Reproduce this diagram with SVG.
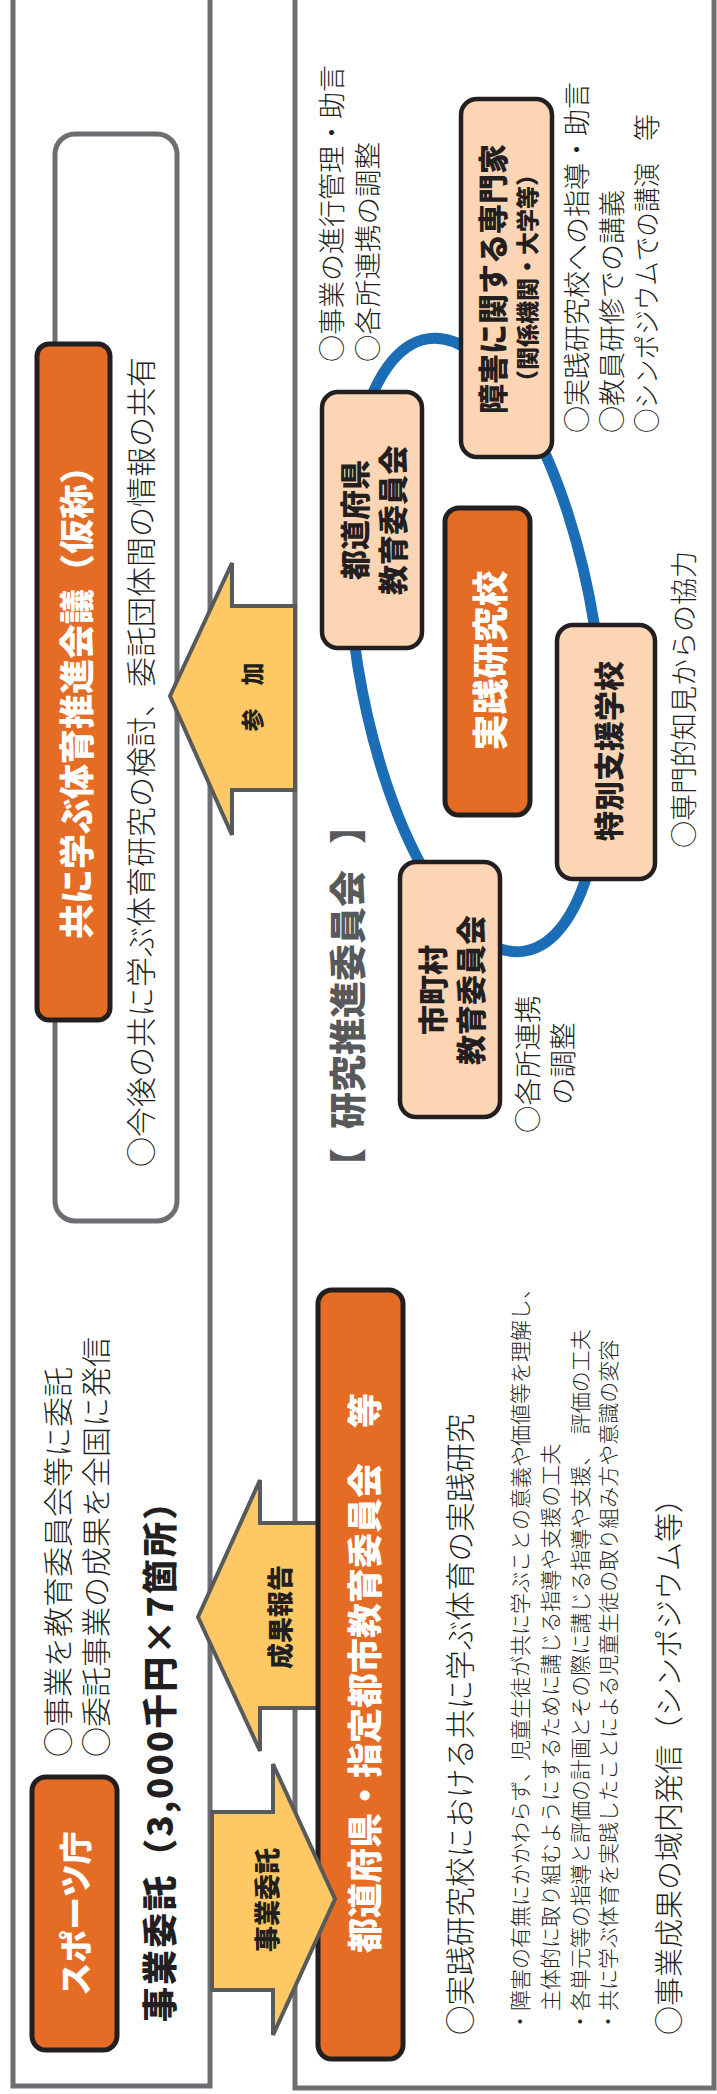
<svg xmlns="http://www.w3.org/2000/svg" width="717" height="2094" viewBox="0 0 717 2094">
<style>
.frame{fill:none;stroke:#6d6e71;stroke-width:5}
.round{fill:#fff;stroke:#6d6e71;stroke-width:5}
.org{fill:#e46c25;stroke:#231f20;stroke-width:5}
.peach{fill:#fcd5b5;stroke:#231f20;stroke-width:4.5}
.arrow{fill:#fec965;stroke:#58595b;stroke-width:4;stroke-linejoin:miter}
.ring{fill:none;stroke:#1b6db5;stroke-width:11}
text{font-family:"Noto Sans CJK JP","Noto Sans CJK SC",sans-serif;fill:#231f20;dominant-baseline:central;font-weight:300}
.b{font-weight:900}
.w{fill:#fff}
.m{text-anchor:middle}
.g{fill:#58595b}
</style>
<rect width="717" height="2094" fill="#fff"/>
<g transform="translate(0,2094) rotate(-90)">
  <g id="frames">
    <rect class="frame" x="8" y="13" width="2100" height="197"/>
    <rect class="frame" x="6" y="295" width="2100" height="419"/>
  </g>
  <g id="council">
    <rect class="round" x="873" y="55" width="1087" height="122" rx="20"/>
    <rect class="org" x="1074" y="37" width="676" height="73" rx="12"/>
    <text class="b w m" x="1400" y="74" font-size="35">共に学ぶ体育推進会議（仮称）</text>
    <text x="927" y="138.5" font-size="30">○今後の共に学ぶ体育研究の検討、委託団体間の情報の共有</text>
  </g>
  <g id="sports-agency">
    <rect class="org" x="44" y="32" width="273" height="85" rx="14"/>
    <text class="b w m" x="180.5" y="74" font-size="33">スポーツ庁</text>
    <text x="337" y="56" font-size="30">○事業を教育委員会等に委託</text>
    <text x="337" y="93.5" font-size="30">○委託事業の成果を全国に発信</text>
    <text class="b" x="72" y="157.5" font-size="35" textLength="537" lengthAdjust="spacing">事業委託（3,000千円×7箇所）</text>
  </g>
  <g id="connectors">
    <polygon id="arrow-report" class="arrow" points="477,198 614,260 571,260 571,322 386,322 386,260 343,260"/>
    <text class="b m" x="477" y="278" font-size="26">成果報告</text>
  </g>
  <g id="prefecture-board">
    <rect class="org" x="35" y="318" width="769" height="85" rx="14"/>
    <text class="b w m" x="421" y="362" font-size="35">都道府県・指定都市教育委員会　等</text>
    <text x="59" y="458.5" font-size="29.6">○実践研究校における共に学ぶ体育の実践研究</text>
    <text x="62" y="518.5" font-size="21">・障害の有無にかかわらず、児童生徒が共に学ぶことの意義や価値等を理解し、</text>
    <text x="83" y="548.5" font-size="21">主体的に取り組むようにするために講じる指導や支援の工夫</text>
    <text x="62" y="578.5" font-size="21">・各単元等の指導と評価の計画とその際に講じる指導や支援、　評価の工夫</text>
    <text x="62" y="606.5" font-size="21">・共に学ぶ体育を実践したことによる児童生徒の取り組み方や意識の変容</text>
    <text x="59" y="666.5" font-size="29">○事業成果の域内発信（シンポジウム等）</text>
  </g>
  <g id="committee">
    <text class="b g" y="346" font-size="37"><tspan x="909">【</tspan><tspan x="965">研究推進委員会</tspan><tspan x="1250">】</tspan></text>
    <ellipse class="ring" cx="1449" cy="476" rx="310" ry="120" transform="rotate(-9 1449 476)"/>
  </g>
  <g id="expert">
    <rect class="peach" x="1637" y="461" width="358" height="91" rx="16"/>
    <text class="b m" x="1815" y="491" font-size="30">障害に関する専門家</text>
    <text class="b m" x="1816" y="525.5" font-size="23">（関係機関・大学等）</text>
    <text x="1661" y="575.5" font-size="27">○実践研究校への指導・助言</text>
    <text x="1661" y="610.5" font-size="27">○教員研修での講義</text>
    <text x="1661" y="645.5" font-size="27" textLength="270" lengthAdjust="spacingAndGlyphs">○シンポジウムでの講演</text>
    <text x="1953" y="645.5" font-size="27">等</text>
  </g>
  <g id="pref-board-small">
    <rect class="peach" x="1446" y="322" width="256" height="100" rx="16"/>
    <text class="b m" x="1574" y="352.5" font-size="30">都道府県</text>
    <text class="b m" x="1574" y="391" font-size="30">教育委員会</text>
    <text x="1732" y="330.5" font-size="27">○事業の進行管理・助言</text>
    <text x="1732" y="365.5" font-size="27.5">○各所連携の調整</text>
  </g>
  <g id="practice-school">
    <rect class="org" x="1279" y="445" width="307" height="85" rx="14"/>
    <text class="b w m" x="1433.5" y="487.5" font-size="36">実践研究校</text>
  </g>
  <g id="special-school">
    <rect class="peach" x="1215" y="557" width="254" height="98" rx="16"/>
    <text class="b m" x="1343" y="606.5" font-size="30">特別支援学校</text>
    <text x="1246" y="682.5" font-size="27">○専門的知見からの協力</text>
  </g>
  <g id="municipal-board">
    <rect class="peach" x="977" y="400" width="255" height="100" rx="16"/>
    <text class="b m" x="1104" y="431" font-size="30">市町村</text>
    <text class="b m" x="1104" y="469" font-size="30">教育委員会</text>
    <text x="961" y="525.5" font-size="27.5">○各所連携</text>
    <text x="989" y="560.5" font-size="27.5">の調整</text>
  </g>
  <g id="connectors-top">
    <polygon id="arrow-commission" class="arrow" points="104,212 282,212 282,273 330,273 195,335 59,273 104,273"/>
    <text class="b m" x="194" y="265" font-size="26">事業委託</text>
    <polygon id="arrow-join" class="arrow" points="1398,170 1531,232 1488,232 1488,295 1304,295 1304,232 1259,232"/>
    <text class="b m" x="1397" y="250.5" font-size="23">参　加</text>
  </g>
</g>
</svg>
